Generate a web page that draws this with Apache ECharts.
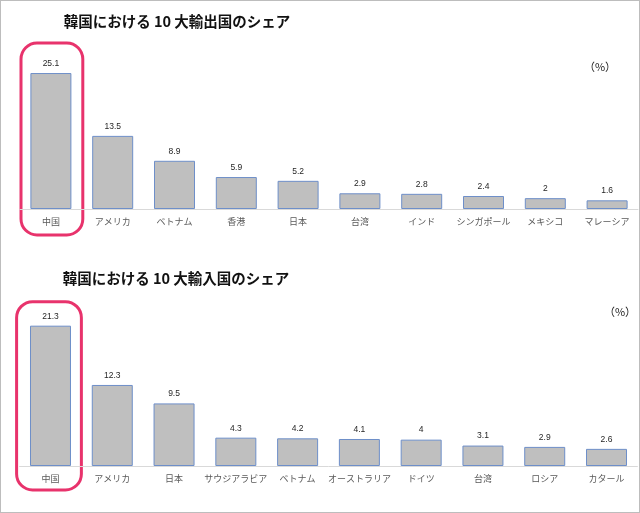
<!DOCTYPE html>
<html><head><meta charset="utf-8">
<script src="https://cdn.jsdelivr.net/npm/echarts@6/dist/echarts.min.js"></script>
<style>
html,body{margin:0;padding:0;background:#fff}
#c{width:640px;height:513px;position:absolute;left:0;top:0}
#b{position:absolute;left:0;top:0;width:640px;height:513px;box-sizing:border-box;border:1px solid #BDBDBD;pointer-events:none}
</style>
</head><body><div id="c"></div><div id="b"></div>
<script>
const exportCategories = ['中国','アメリカ','ベトナム','香港','日本','台湾','インド','シンガポール','メキシコ','マレーシア'];
const exportShares = [25.1, 13.5, 8.9, 5.9, 5.2, 2.9, 2.8, 2.4, 2, 1.6];
const importCategories = ['中国','アメリカ','日本','サウジアラビア','ベトナム','オーストラリア','ドイツ','台湾','ロシア','カタール'];
const importShares = [21.3, 12.3, 9.5, 4.3, 4.2, 4.1, 4, 3.1, 2.9, 2.6];
const exportTitle = '韓国における 10 大輸出国のシェア';
const importTitle = '韓国における 10 大輸入国のシェア';
const unitLabel = '（%）';
const highlightCategory = '中国';

const FONT = '"Noto Sans CJK JP", "Noto Sans", sans-serif';
const chart = echarts.init(document.getElementById('c'), null, {renderer: 'canvas'});

const catAxis = (idx, data) => ({
  type: 'category', gridIndex: idx, data: data,
  axisLine: {show: true, lineStyle: {color: '#D9D9D9', width: 1}},
  axisTick: {show: false},
  axisLabel: {color: '#595959', fontSize: 9, margin: 8, fontFamily: FONT, interval: 0}
});
const valAxis = (idx, max) => ({
  type: 'value', gridIndex: idx, min: 0, max: max, show: false, splitLine: {show: false}
});
const barSeries = (idx, data) => ({
  type: 'bar', xAxisIndex: idx, yAxisIndex: idx, data: data,
  barWidth: 41,
  itemStyle: {color: '#BFBFBF', borderColor: '#6E8FC9', borderWidth: 1},
  label: {show: true, position: 'top', distance: 5, color: '#262626', fontSize: 8.5, fontFamily: 'Arial, "Liberation Sans", sans-serif'},
  silent: true, animation: false
});

chart.setOption({
  animation: false,
  title: [
    {text: exportTitle, left: 172, top: 9, textAlign: 'center', textStyle: {fontSize: 14.5, fontWeight: 'bold', color: '#111', fontFamily: FONT}},
    {text: unitLabel, left: 595, top: 56, textAlign: 'center', textStyle: {fontSize: 11, fontWeight: 'normal', color: '#222', fontFamily: FONT}},
    {text: importTitle, left: 171, top: 266, textAlign: 'center', textStyle: {fontSize: 14.5, fontWeight: 'bold', color: '#111', fontFamily: FONT}},
    {text: unitLabel, left: 615, top: 301, textAlign: 'center', textStyle: {fontSize: 11, fontWeight: 'normal', color: '#222', fontFamily: FONT}}
  ],
  grid: [
    {left: 20, right: 2, top: 46.5, bottom: 304},
    {left: 19.6, right: 2.6, top: 301.3, bottom: 47}
  ],
  xAxis: [catAxis(0, exportCategories), catAxis(1, importCategories)],
  yAxis: [valAxis(0, 30), valAxis(1, 25)],
  series: [barSeries(0, exportShares), barSeries(1, importShares)]
});

// highlight frames around the 中国 column, positioned from the axes
function frame(idx, values, cats, aboveTop, below, extraW, shiftX) {
  const i = cats.indexOf(highlightCategory);
  const base = chart.convertToPixel({xAxisIndex: idx, yAxisIndex: idx}, [highlightCategory, 0]);
  const top = chart.convertToPixel({xAxisIndex: idx, yAxisIndex: idx}, [highlightCategory, values[i]]);
  const next = chart.convertToPixel({xAxisIndex: idx, yAxisIndex: idx}, [cats[i + 1], 0]);
  const band = next[0] - base[0];
  const w = band + extraW;
  return {
    type: 'rect', silent: true,
    shape: {x: base[0] - w / 2 + shiftX, y: top[1] - aboveTop, width: w, height: (base[1] + below) - (top[1] - aboveTop), r: 16},
    style: {fill: 'none', stroke: '#E8336C', lineWidth: 3}
  };
}
chart.setOption({
  graphic: [
    frame(0, exportShares, exportCategories, 30, 26, 0, 1),
    frame(1, importShares, importCategories, 24, 24, 3, -1.5)
  ]
});
</script>
</body></html>
